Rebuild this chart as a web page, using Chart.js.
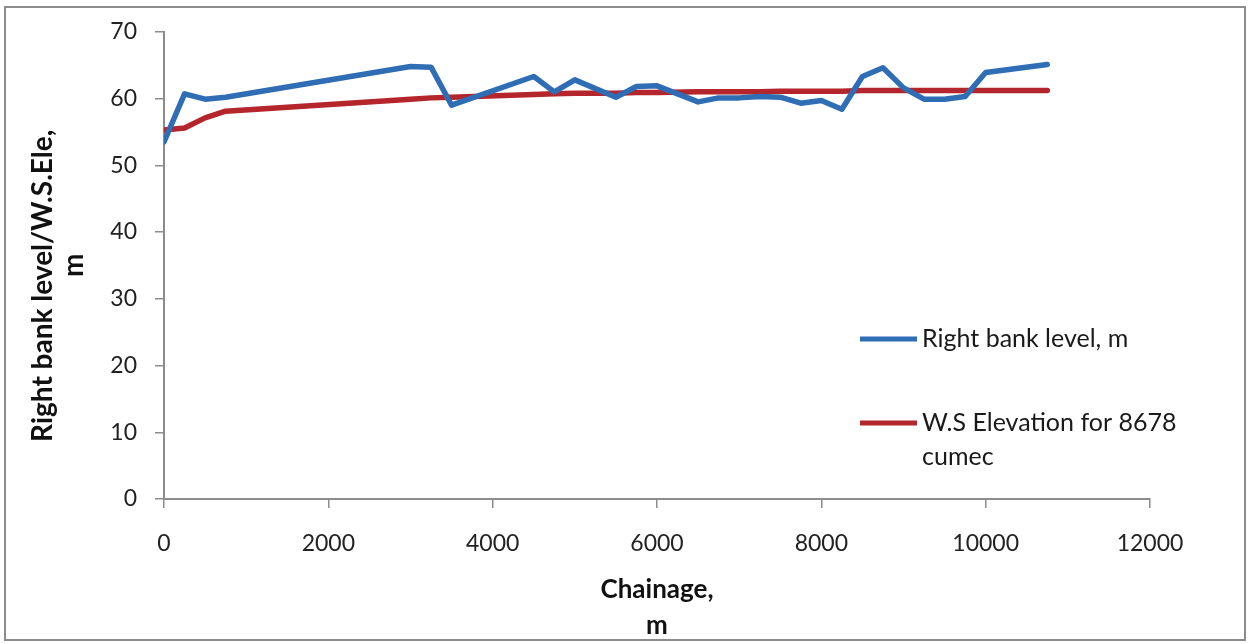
<!DOCTYPE html>
<html>
<head>
<meta charset="utf-8">
<script src="https://cdn.jsdelivr.net/npm/chart.js@4.4.1/dist/chart.umd.min.js"></script>
<style>
  html, body { margin: 0; padding: 0; background: #ffffff; }
  #wrap { position: relative; width: 1248px; height: 644px; }
  #frame {
    position: absolute; left: 4px; top: 6px; width: 1238px; height: 631px;
    border: 2px solid #8c8c8c; pointer-events: none;
  }
  canvas { position: absolute; left: 0; top: 0; }
</style>
</head>
<body>
<div id="wrap">
  <canvas id="chart" width="1248" height="644"></canvas>
  <div id="frame"></div>
</div>
<script>
// Chainage along the reach, m
const chainage = [0, 250, 500, 750, 3000, 3250, 3500, 4500, 4750, 5000, 5500, 5750, 6000, 6500,
                  6750, 7000, 7250, 7500, 7750, 8000, 8250, 8500, 8750, 9000, 9250, 9500, 9750, 10000, 10750];

// Right bank level, m
const rightBank = [53.5, 60.7, 59.9, 60.2, 64.8, 64.7, 59.0, 63.3, 61.0, 62.8, 60.2, 61.8, 61.9, 59.5,
                   60.1, 60.1, 60.3, 60.2, 59.3, 59.7, 58.4, 63.3, 64.6, 61.6, 59.9, 59.9, 60.3, 63.9, 65.1];

// Water surface elevation for 8678 cumec, m
const wsElevation = [55.3, 55.6, 57.1, 58.1, 59.9, 60.1, 60.2, 60.6, 60.7, 60.8, 60.8, 60.9, 60.9, 61.0,
                     61.0, 61.0, 61.0, 61.1, 61.1, 61.1, 61.1, 61.2, 61.2, 61.2, 61.2, 61.2, 61.2, 61.2, 61.2];

const seriesLabels = ['Right bank level, m', 'W.S Elevation for 8678 cumec'];
const xTitle = ['Chainage,', 'm'];
const yTitle = ['Right bank level/W.S.Ele,', 'm'];
const xTicks = [0, 2000, 4000, 6000, 8000, 10000, 12000];
const yTicks = [0, 10, 20, 30, 40, 50, 60, 70];

const FONT = 'Lato, "Open Sans", "DejaVu Sans", sans-serif';

function pts(ys) { return chainage.map((c, i) => ({ x: c, y: ys[i] })); }

// Legend drawn inside the plot area, with word wrapping for long labels
const innerLegend = {
  id: 'innerLegend',
  afterDatasetsDraw(chart, args, opts) {
    const ctx = chart.ctx;
    ctx.save();
    ctx.font = opts.font;
    ctx.fillStyle = opts.color;
    ctx.textBaseline = 'middle';
    ctx.textAlign = 'left';
    chart.data.datasets.forEach((ds, i) => {
      const y = opts.y + i * opts.rowGap;
      ctx.strokeStyle = ds.borderColor;
      ctx.lineWidth = opts.lineWidth;
      ctx.lineCap = 'butt';
      ctx.beginPath();
      ctx.moveTo(opts.x, y);
      ctx.lineTo(opts.x + opts.lineLength, y);
      ctx.stroke();
      const tx = opts.x + opts.lineLength + opts.textGap;
      const words = ds.label.split(' ');
      const lines = [];
      let cur = '';
      words.forEach(w => {
        const test = cur ? cur + ' ' + w : w;
        if (cur && ctx.measureText(test).width > opts.maxWidth) { lines.push(cur); cur = w; }
        else cur = test;
      });
      if (cur) lines.push(cur);
      lines.forEach((ln, k) => ctx.fillText(ln, tx, y + k * opts.lineHeight));
    });
    ctx.restore();
  }
};

new Chart(document.getElementById('chart'), {
  type: 'line',
  data: {
    datasets: [
      {
        label: seriesLabels[0],
        data: pts(rightBank),
        borderColor: '#2f6db5',
        borderWidth: 5.5,
        pointRadius: 0,
        tension: 0,
        borderJoinStyle: 'round',
        borderCapStyle: 'round'
      },
      {
        label: seriesLabels[1],
        data: pts(wsElevation),
        borderColor: '#b4262b',
        borderWidth: 5.5,
        pointRadius: 0,
        tension: 0,
        borderJoinStyle: 'round',
        borderCapStyle: 'round'
      }
    ]
  },
  options: {
    responsive: false,
    devicePixelRatio: 1,
    animation: false,
    events: [],
    layout: { padding: { left: 28, top: 31, right: 98, bottom: 0 } },
    plugins: {
      legend: { display: false },
      tooltip: { enabled: false },
      innerLegend: {
        x: 860, y: 339, rowGap: 84, lineLength: 57, textGap: 5,
        lineWidth: 5, lineHeight: 34, maxWidth: 275,
        font: '25px ' + FONT, color: '#1a1a1a'
      }
    },
    scales: {
      x: {
        type: 'linear',
        min: 0, max: 12000,
        afterBuildTicks(scale) { scale.ticks = xTicks.map(v => ({ value: v })); },
        afterFit(scale) { scale.height = 145; },
        grid: { display: true, drawOnChartArea: false, drawTicks: true, tickLength: 9, color: '#8c8c8c', lineWidth: 1.5 },
        border: { display: true, color: '#8c8c8c', width: 2 },
        ticks: {
          color: '#222', font: { family: FONT, size: 23 }, padding: 22, maxRotation: 0,
          callback: v => String(v)
        },
        title: {
          display: true, text: xTitle, color: '#111',
          font: { family: FONT, size: 26, weight: 'bold', lineHeight: 1.4 },
          padding: { top: 0, bottom: 0 }
        }
      },
      y: {
        min: 0, max: 70,
        afterBuildTicks(scale) { scale.ticks = yTicks.map(v => ({ value: v })); },
        afterFit(scale) { scale.width = 136; },
        grid: { display: true, drawOnChartArea: false, drawTicks: true, tickLength: 9, color: '#8c8c8c', lineWidth: 1.5 },
        border: { display: true, color: '#8c8c8c', width: 2 },
        ticks: { color: '#222', font: { family: FONT, size: 23 }, padding: 18, callback: v => String(v) },
        title: {
          display: true, text: [yTitle[0] + '\u00a0'.repeat(6), yTitle[1]], color: '#111',
          font: { family: FONT, size: 28, weight: 'bold', lineHeight: 1.1 },
          padding: { top: 0, bottom: 0 }
        }
      }
    }
  },
  plugins: [innerLegend]
});
</script>
</body>
</html>
